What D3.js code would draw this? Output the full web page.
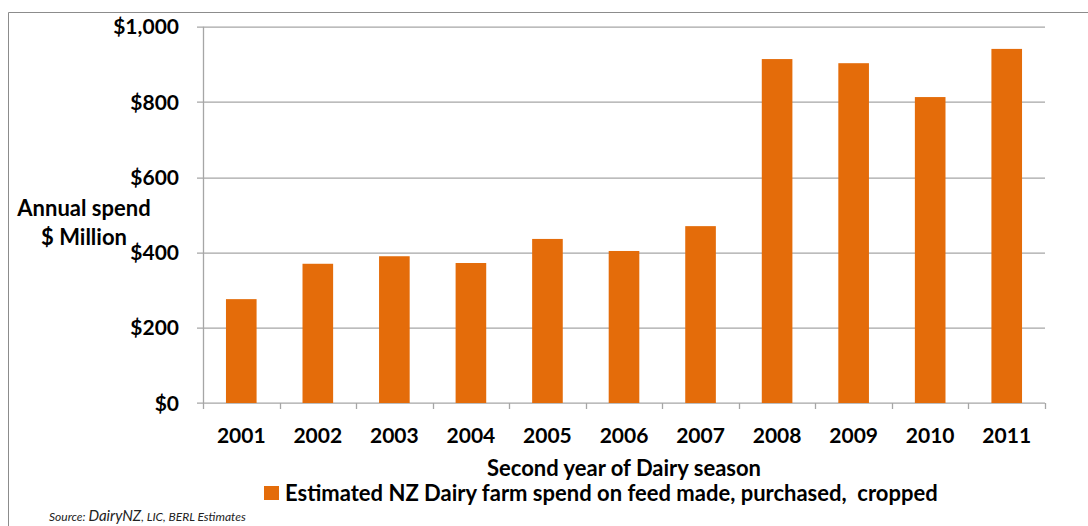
<!DOCTYPE html>
<html>
<head>
<meta charset="utf-8">
<script src="https://cdn.jsdelivr.net/npm/d3@7"></script>
<style>
  body { margin: 0; background: #fff; }
  svg { display: block; font-family: Lato, "Open Sans", sans-serif; }
</style>
</head>
<body>
<svg width="1088" height="526"></svg>
<script>
// chart values
let years = ["2001", "2002", "2003", "2004", "2005", "2006", "2007", "2008", "2009", "2010", "2011"];
let spend = [276, 370, 390, 372, 436, 404, 470, 914, 903, 813, 941];
let yTicks = [0, 200, 400, 600, 800, 1000];
let seriesName = "Estimated NZ Dairy farm spend on feed made, purchased,  cropped";

let svg = d3.select("svg");
let margin = { top: 26.7, right: 43, bottom: 123, left: 203 };
let width = 1088, height = 526;
let plotWidth = width - margin.left - margin.right;
let plotHeight = height - margin.top - margin.bottom;

// outer chart border (only top and left visible)
svg.append("path")
  .attr("d", "M8.5,530 V12.5 H1090")
  .attr("fill", "none")
  .attr("stroke", "#8c8c8c")
  .attr("stroke-width", 1);

let x = d3.scaleBand()
  .domain(years)
  .range([0, plotWidth])
  .paddingInner(0.6)
  .paddingOuter(0.3);

let y = d3.scaleLinear()
  .domain([0, 1000])
  .range([plotHeight, 0]);

let plot = svg.append("g")
  .attr("transform", "translate(" + margin.left + "," + margin.top + ")");

// gridlines
plot.append("g")
  .selectAll("line")
  .data(yTicks)
  .enter().append("line")
  .attr("x1", -6)
  .attr("x2", plotWidth)
  .attr("y1", d => Math.round(y(d)) + 0.5)
  .attr("y2", d => Math.round(y(d)) + 0.5)
  .attr("stroke", "#a6a6a6")
  .attr("stroke-width", 1.3);

// y axis line
plot.append("line")
  .attr("x1", 0.5).attr("x2", 0.5)
  .attr("y1", 0).attr("y2", plotHeight)
  .attr("stroke", "#a6a6a6")
  .attr("stroke-width", 1.3);

let fmt = d3.format("$,");
plot.append("g")
  .selectAll("text")
  .data(yTicks)
  .enter().append("text")
  .attr("x", -24)
  .attr("y", d => y(d))
  .attr("dy", "0.36em")
  .attr("text-anchor", "end")
  .style("font-size", "21px")
  .style("font-weight", "bold")
  .attr("fill", "#000")
  .text(d => fmt(d));

// x category ticks
let step = plotWidth / years.length;
plot.append("g")
  .selectAll("line")
  .data(d3.range(years.length + 1))
  .enter().append("line")
  .attr("x1", d => Math.round(d * step) + 0.5)
  .attr("x2", d => Math.round(d * step) + 0.5)
  .attr("y1", plotHeight)
  .attr("y2", plotHeight + 6)
  .attr("stroke", "#a6a6a6")
  .attr("stroke-width", 1.3);

// bars
plot.selectAll("rect.bar")
  .data(spend)
  .enter().append("rect")
  .attr("class", "bar")
  .attr("x", (d, i) => x(years[i]))
  .attr("y", d => y(d))
  .attr("width", x.bandwidth())
  .attr("height", d => plotHeight - y(d))
  .attr("fill", "#e46c0a");

// year labels
plot.append("g")
  .selectAll("text")
  .data(years)
  .enter().append("text")
  .attr("x", d => x(d) + x.bandwidth() / 2)
  .attr("y", plotHeight + 32)
  .attr("dy", "0.36em")
  .attr("text-anchor", "middle")
  .style("font-size", "21px")
  .style("font-weight", "bold")
  .text(d => d);

// y axis title
let yTitle = svg.append("text")
  .attr("text-anchor", "middle")
  .style("font-size", "22px")
  .style("font-weight", "bold");
yTitle.append("tspan").attr("x", 84).attr("y", 216).text("Annual spend");
yTitle.append("tspan").attr("x", 84).attr("y", 245).text("$ Million");

// x axis title
svg.append("text")
  .attr("x", margin.left + plotWidth / 2)
  .attr("y", 476)
  .attr("text-anchor", "middle")
  .style("font-size", "22px")
  .style("font-weight", "bold")
  .text("Second year of Dairy season");

// legend
svg.append("rect")
  .attr("x", 264).attr("y", 486)
  .attr("width", 15).attr("height", 14)
  .attr("fill", "#e46c0a");
svg.append("text")
  .attr("x", 285)
  .attr("y", 501)
  .style("font-size", "22px")
  .style("font-weight", "bold")
  .style("white-space", "pre")
  .text(seriesName);

// source note
let src = svg.append("text")
  .attr("x", 49)
  .attr("y", 521)
  .style("font-style", "italic")
  .style("font-size", "12px")
  .attr("fill", "#222");
src.append("tspan").text("Source: ");
src.append("tspan").style("font-size", "15px").text("DairyNZ");
src.append("tspan").text(", LIC, BERL Estimates");
</script>
</body>
</html>
